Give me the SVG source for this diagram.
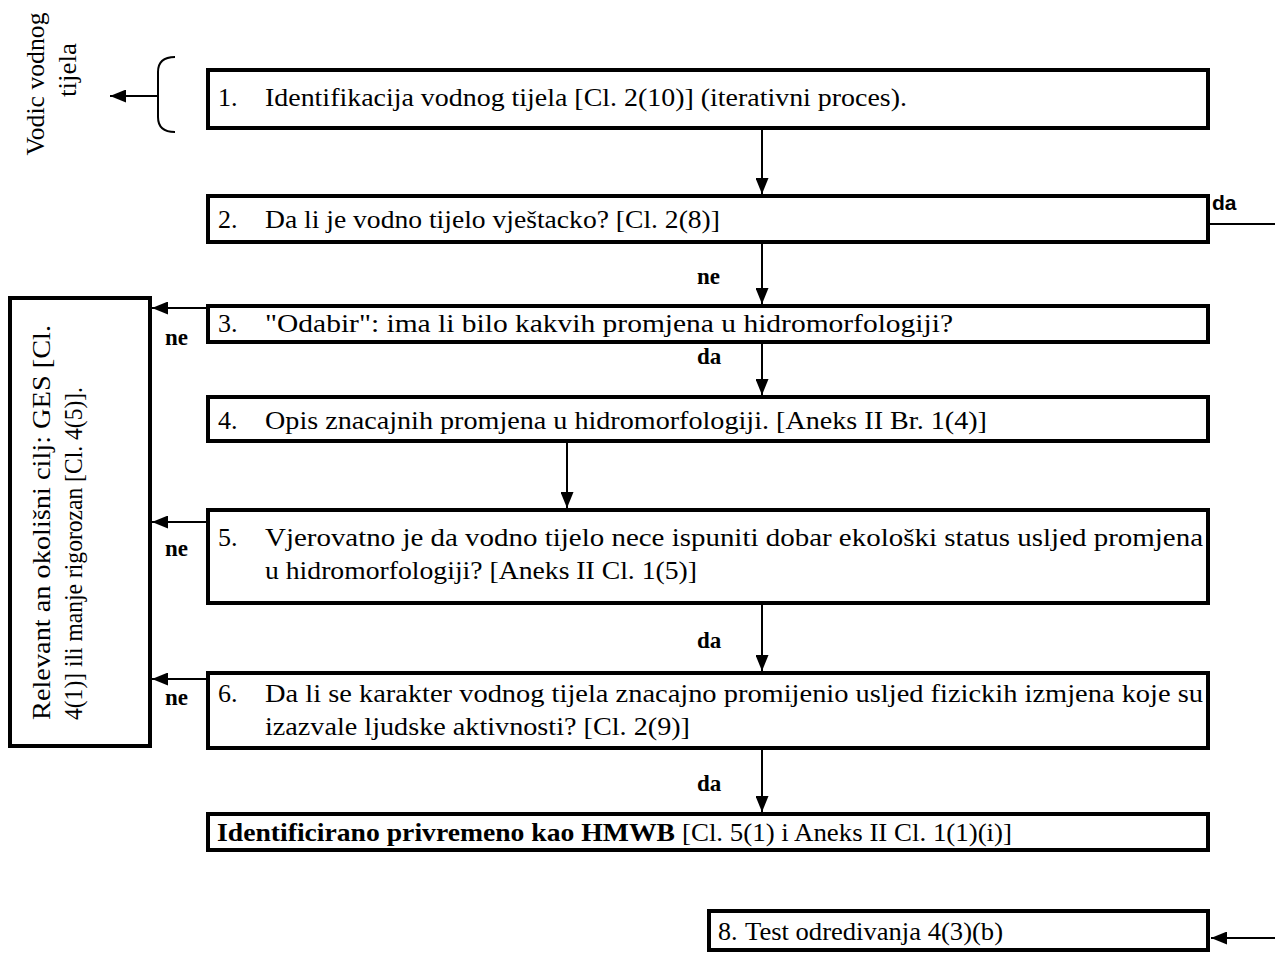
<svg xmlns="http://www.w3.org/2000/svg" width="1275" height="960" viewBox="0 0 1275 960">
<style>
.box{fill:#fff;stroke:#000;stroke-width:4}
.t{font-family:"Liberation Serif","Times New Roman",serif;font-size:26px;fill:#000}
.b{font-weight:bold}
.lbl{font-family:"Liberation Serif","Times New Roman",serif;font-size:23px;font-weight:bold;fill:#000}
.ln{stroke:#000;stroke-width:2;fill:none}
</style>
<defs>
<marker id="ah" viewBox="0 0 16 13" refX="16" refY="6.5" markerWidth="16" markerHeight="13" markerUnits="userSpaceOnUse" orient="auto">
<path d="M0,0 L16,6.5 L0,13 z" fill="#000"/>
</marker>
</defs>

<g id="label-vodic">
<text class="t" transform="translate(44,84) rotate(-90)" text-anchor="middle" textLength="143" lengthAdjust="spacingAndGlyphs">Vodic vodnog</text>
<text class="t" transform="translate(76,70) rotate(-90)" text-anchor="middle" textLength="54" lengthAdjust="spacingAndGlyphs">tijela</text>
</g>

<g id="node1">
<rect class="box" x="208" y="70" width="1000" height="58"/>
<text class="t" x="218" y="106">1.</text>
<text class="t" x="265" y="106" textLength="642" lengthAdjust="spacingAndGlyphs">Identifikacija vodnog tijela [Cl. 2(10)] (iterativni proces).</text>
</g>

<g id="node2">
<rect class="box" x="208" y="196" width="1000" height="46"/>
<text class="t" x="218" y="228">2.</text>
<text class="t" x="265" y="228" textLength="455" lengthAdjust="spacingAndGlyphs">Da li je vodno tijelo vještacko? [Cl. 2(8)]</text>
</g>

<g id="node3">
<rect class="box" x="208" y="306" width="1000" height="36"/>
<text class="t" x="218" y="332">3.</text>
<text class="t" x="265" y="332" textLength="688" lengthAdjust="spacingAndGlyphs">"Odabir": ima li bilo kakvih promjena u hidromorfologiji?</text>
</g>

<g id="node4">
<rect class="box" x="208" y="397" width="1000" height="44"/>
<text class="t" x="218" y="429">4.</text>
<text class="t" x="265" y="429" textLength="722" lengthAdjust="spacingAndGlyphs">Opis znacajnih promjena u hidromorfologiji. [Aneks II Br. 1(4)]</text>
</g>

<g id="node5">
<rect class="box" x="208" y="510" width="1000" height="93"/>
<text class="t" x="218" y="546">5.</text>
<text class="t" x="265" y="546" textLength="938" lengthAdjust="spacingAndGlyphs">Vjerovatno je da vodno tijelo nece ispuniti dobar ekološki status usljed promjena</text>
<text class="t" x="265" y="579" textLength="432" lengthAdjust="spacingAndGlyphs">u hidromorfologiji? [Aneks II Cl. 1(5)]</text>
</g>

<g id="node6">
<rect class="box" x="208" y="673" width="1000" height="75"/>
<text class="t" x="218" y="702">6.</text>
<text class="t" x="265" y="702" textLength="938" lengthAdjust="spacingAndGlyphs">Da li se karakter vodnog tijela znacajno promijenio usljed fizickih izmjena koje su</text>
<text class="t" x="265" y="735" textLength="425" lengthAdjust="spacingAndGlyphs">izazvale ljudske aktivnosti? [Cl. 2(9)]</text>
</g>

<g id="node7">
<rect class="box" x="208" y="814" width="1000" height="36"/>
<text class="t b" x="217" y="841" textLength="458" lengthAdjust="spacingAndGlyphs">Identificirano privremeno kao HMWB</text>
<text class="t" x="682" y="841" textLength="330" lengthAdjust="spacingAndGlyphs">[Cl. 5(1) i Aneks II Cl. 1(1)(i)]</text>
</g>

<g id="node8">
<rect class="box" x="709" y="911" width="499" height="39"/>
<text class="t" x="718" y="940">8.</text>
<text class="t" x="745" y="940" textLength="258" lengthAdjust="spacingAndGlyphs">Test odredivanja 4(3)(b)</text>
</g>

<g id="node-left">
<rect class="box" x="10" y="298" width="140" height="448"/>
<text class="t" transform="translate(50,720) rotate(-90)" textLength="395" lengthAdjust="spacingAndGlyphs">Relevant an okolišni cilj: GES [Cl.</text>
<text class="t" transform="translate(82,720) rotate(-90)" textLength="333" lengthAdjust="spacingAndGlyphs">4(1)] ili manje rigorozan [Cl. 4(5)].</text>
</g>

<g id="connectors">
<path class="ln" d="M175,57 Q158,57 158,72 L158,117 Q158,132 175,132"/>
<line class="ln" x1="158" y1="96" x2="110" y2="96" marker-end="url(#ah)"/>

<line class="ln" x1="762" y1="128" x2="762" y2="194" marker-end="url(#ah)"/>
<line class="ln" x1="762" y1="242" x2="762" y2="304" marker-end="url(#ah)"/>
<line class="ln" x1="762" y1="342" x2="762" y2="395" marker-end="url(#ah)"/>
<line class="ln" x1="567" y1="441" x2="567" y2="508" marker-end="url(#ah)"/>
<line class="ln" x1="762" y1="603" x2="762" y2="671" marker-end="url(#ah)"/>
<line class="ln" x1="762" y1="748" x2="762" y2="812" marker-end="url(#ah)"/>

<line class="ln" x1="208" y1="308" x2="152" y2="308" marker-end="url(#ah)"/>
<line class="ln" x1="208" y1="522" x2="152" y2="522" marker-end="url(#ah)"/>
<line class="ln" x1="208" y1="679" x2="152" y2="679" marker-end="url(#ah)"/>

<line class="ln" x1="1208" y1="224" x2="1275" y2="224"/>
<line class="ln" x1="1275" y1="938" x2="1211" y2="938" marker-end="url(#ah)"/>

<text class="lbl" x="697" y="284">ne</text>
<text class="lbl" x="697" y="364">da</text>
<text class="lbl" x="697" y="648">da</text>
<text class="lbl" x="697" y="791">da</text>
<text class="lbl" x="165" y="345">ne</text>
<text class="lbl" x="165" y="556">ne</text>
<text class="lbl" x="165" y="705">ne</text>
<text x="1212" y="210" style="font-family:'Liberation Sans',Arial,sans-serif;font-size:21px;font-weight:bold">da</text>
</g>
</svg>
